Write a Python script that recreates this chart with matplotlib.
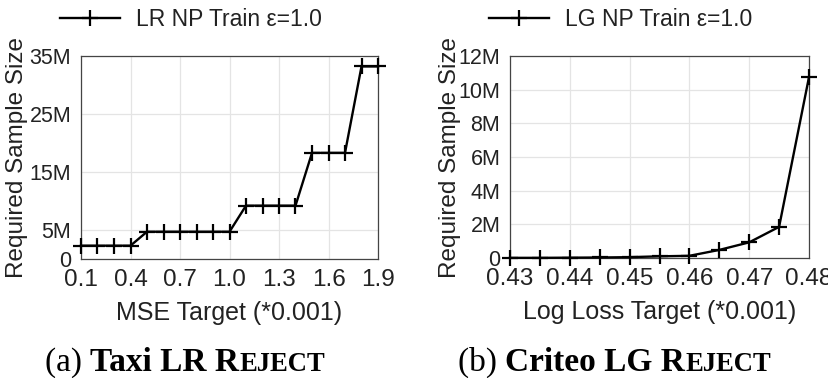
import matplotlib
matplotlib.use("Agg")
import matplotlib.pyplot as plt

# ---- data ----
mse_targets = [0.1, 0.2, 0.3, 0.4, 0.5, 0.6, 0.7, 0.8, 0.9, 1.0,
               1.1, 1.2, 1.3, 1.4, 1.5, 1.6, 1.7, 1.8, 1.9]
lr_sizes = [2.3e6, 2.3e6, 2.3e6, 2.3e6, 4.7e6, 4.7e6, 4.7e6, 4.7e6, 4.7e6, 4.7e6,
            9.2e6, 9.2e6, 9.2e6, 9.2e6, 18.3e6, 18.3e6, 18.3e6, 33.2e6, 33.2e6]
lr_xticks = [0.1, 0.4, 0.7, 1.0, 1.3, 1.6, 1.9]
lr_xticklabels = ["0.1", "0.4", "0.7", "1.0", "1.3", "1.6", "1.9"]
lr_yticks = [0, 5e6, 15e6, 25e6, 35e6]
lr_yticklabels = ["0", "5M", "15M", "25M", "35M"]

ll_targets = [0.43, 0.435, 0.44, 0.445, 0.45, 0.455, 0.46, 0.465, 0.47, 0.475, 0.48]
lg_sizes = [0.01e6, 0.01e6, 0.02e6, 0.03e6, 0.05e6, 0.1e6, 0.13e6, 0.48e6, 0.93e6, 1.85e6, 10.75e6]
lg_xticks = [0.43, 0.44, 0.45, 0.46, 0.47, 0.48]
lg_xticklabels = ["0.43", "0.44", "0.45", "0.46", "0.47", "0.48"]
lg_yticks = [0, 2e6, 4e6, 6e6, 8e6, 10e6, 12e6]
lg_yticklabels = ["0", "2M", "4M", "6M", "8M", "10M", "12M"]

plt.rcParams['font.family'] = ['Liberation Sans', 'DejaVu Sans']

W, H = 829, 378
fig = plt.figure(figsize=(W / 100, H / 100), dpi=100)


def fr(x0, y0, x1, y1):
    return [x0 / W, 1 - y1 / H, (x1 - x0) / W, (y1 - y0) / H]


TXT = '#222222'


def panel(rect, x, y, xt, xtl, yt, ytl, xlim, ylim, xlabel, legend_label,
          leg_anchor, ylabel_x):
    ax = fig.add_axes(rect)
    ax.plot(x, y, color='black', lw=1.7, marker='+', ms=12, mew=1.6,
            label=legend_label, clip_on=False, zorder=5)
    ax.set_xlim(*xlim)
    ax.set_ylim(*ylim)
    ax.set_xticks(xt)
    ax.set_xticklabels(xtl)
    ax.set_yticks(yt)
    ax.set_yticklabels(ytl)
    ax.grid(True, color='#e4e4e4', lw=0.9)
    ax.set_axisbelow(True)
    ax.tick_params(length=0, colors=TXT)
    ax.tick_params(axis='x', pad=7.5, labelsize=17.5)
    ax.tick_params(axis='y', pad=7, labelsize=15.5)
    for s in ax.spines.values():
        s.set_color('#444444')
        s.set_linewidth(0.9)
    ax.set_xlabel(xlabel, fontsize=18, color=TXT, labelpad=7)
    ax.set_ylabel('Required Sample Size', fontsize=17.5, color=TXT)
    pos = ax.get_position()
    ax.yaxis.set_label_coords(ylabel_x / W, pos.y0 + pos.height / 2,
                              transform=fig.transFigure)
    leg = fig.legend(handles=ax.get_lines(), loc='center left',
                     bbox_to_anchor=leg_anchor, frameon=False, fontsize=16.5,
                     handlelength=2.6, handletextpad=0.7, borderaxespad=0,
                     borderpad=0)
    for t in leg.get_texts():
        t.set_color(TXT)
    return ax


ax1 = panel(fr(81, 56, 378, 259), mse_targets, lr_sizes, lr_xticks, lr_xticklabels,
            lr_yticks, lr_yticklabels, (0.1, 1.9), (0, 35e6),
            'MSE Target (*0.001)', 'LR NP Train \u03b5=1.0', (60 / W, 1 - 20 / H), 28)
ax2 = panel(fr(510, 56, 809, 258), ll_targets, lg_sizes, lg_xticks, lg_xticklabels,
            lg_yticks, lg_yticklabels, (0.43, 0.48), (0, 12e6),
            'Log Loss Target (*0.001)', 'LG NP Train \u03b5=1.0', (489 / W, 1 - 20 / H), 461)

# ---- captions (bold + small caps) ----
CAP = 24
serif = ['Liberation Serif', 'DejaVu Serif']


def caption(x_px, base_px, pieces):
    fig.canvas.draw()
    r = fig.canvas.get_renderer()
    xx = x_px
    for txt, weight, size in pieces:
        t = fig.text(xx / W, 1 - base_px / H, txt, fontsize=size, fontweight=weight,
                     family=serif, va='baseline', ha='left', color='black')
        ext = t.get_window_extent(renderer=r)
        xx += ext.width


caption(45, 371, [("(a) ", 'normal', CAP), ("Taxi LR R", 'bold', CAP), ("EJECT", 'bold', CAP * 0.8)])
caption(458, 371, [("(b) ", 'normal', CAP), ("Criteo LG R", 'bold', CAP), ("EJECT", 'bold', CAP * 0.8)])

fig.savefig('out.png', dpi=100)
